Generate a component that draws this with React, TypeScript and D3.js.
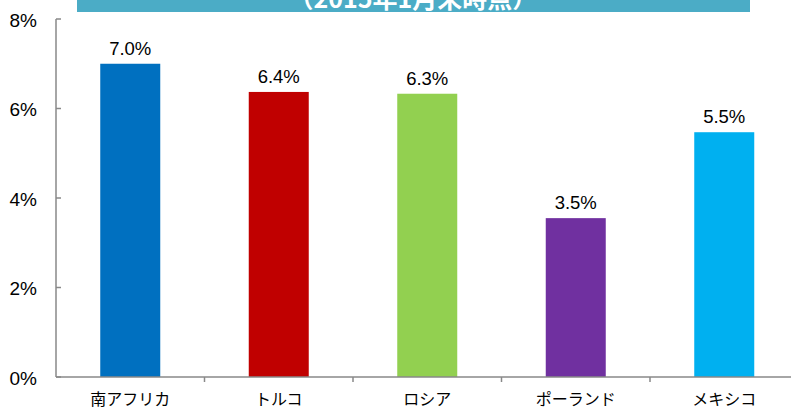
import * as d3 from "d3";
import {useEffect, useRef} from "react";

const countries = ["南アフリカ", "トルコ", "ロシア", "ポーランド", "メキシコ"];
const rates = [7.0, 6.37, 6.33, 3.55, 5.47];
const barColors = ["#0070C0", "#C00000", "#92D050", "#7030A0", "#00B0F0"];
const yTicks = [0, 2, 4, 6, 8];
const bannerText = "（2015年1月末時点）";

const W = 791;
const H = 410;

const App = () => {
    const ref = useRef<SVGSVGElement>(null);

    useEffect(() => {
        const svg = d3.select(ref.current);
        svg.selectAll("*").remove();

        const left = 56;
        const band = 148.5;
        const x = d3.scaleBand<string>()
            .domain(countries)
            .range([left, left + band * countries.length])
            .paddingInner(0)
            .paddingOuter(0);
        const y = d3.scaleLinear().domain([0, 8]).range([377, 19]);
        const barW = 60;
        const font = "Arial, 'Liberation Sans', sans-serif";

        // banner at top (cut off)
        svg.append("rect")
            .attr("x", 77).attr("y", 0)
            .attr("width", 673).attr("height", 12)
            .attr("fill", "#4BACC6");
        svg.append("text")
            .attr("x", 413).attr("y", 8)
            .attr("text-anchor", "middle")
            .attr("fill", "#fff")
            .attr("font-weight", "bold")
            .attr("font-size", 25)
            .attr("font-family", "'Noto Sans CJK JP', sans-serif")
            .text(bannerText);

        // bars
        svg.selectAll("rect.bar")
            .data(rates)
            .enter()
            .append("rect")
            .attr("class", "bar")
            .attr("x", (d, i) => x(countries[i])! + x.bandwidth() / 2 - barW / 2)
            .attr("y", d => y(d))
            .attr("width", barW)
            .attr("height", d => y(0) - y(d))
            .attr("fill", (d, i) => barColors[i]);

        // value labels
        svg.selectAll("text.val")
            .data(rates)
            .enter()
            .append("text")
            .attr("class", "val")
            .attr("x", (d, i) => x(countries[i])! + x.bandwidth() / 2)
            .attr("y", d => y(d) - 9)
            .attr("text-anchor", "middle")
            .attr("font-family", font)
            .attr("font-size", 18.5)
            .attr("fill", "#000")
            .text(d => d.toFixed(1) + "%");

        const axisColor = "#898989";

        // y axis
        svg.append("line")
            .attr("x1", left).attr("x2", left)
            .attr("y1", y(8)).attr("y2", y(0))
            .attr("stroke", axisColor).attr("stroke-width", 1.5);
        yTicks.forEach(t => {
            svg.append("line")
                .attr("x1", left).attr("x2", left + 5)
                .attr("y1", y(t)).attr("y2", y(t))
                .attr("stroke", axisColor).attr("stroke-width", 1.5);
            svg.append("text")
                .attr("x", 37).attr("y", y(t) + 7.5)
                .attr("text-anchor", "end")
                .attr("font-family", font)
                .attr("font-size", 19)
                .attr("fill", "#000")
                .text(t + "%");
        });

        // x axis
        svg.append("line")
            .attr("x1", left).attr("x2", left + band * countries.length)
            .attr("y1", y(0)).attr("y2", y(0))
            .attr("stroke", axisColor).attr("stroke-width", 1.5);
        countries.forEach((c, i) => {
            if (i > 0) {
                svg.append("line")
                    .attr("x1", x(c)!).attr("x2", x(c)!)
                    .attr("y1", y(0)).attr("y2", y(0) + 5)
                    .attr("stroke", axisColor).attr("stroke-width", 1.5);
            }
            svg.append("text")
                .attr("x", x(c)! + x.bandwidth() / 2)
                .attr("y", 405)
                .attr("text-anchor", "middle")
                .attr("font-family", "'Noto Sans CJK JP', sans-serif")
                .attr("font-size", 16)
                .attr("fill", "#000")
                .text(c);
        });
    }, []);

    return (
        <svg
            ref={ref}
            width={W}
            height={H}
            style={{position: "absolute", left: 0, top: 0, background: "#fff"}}
        />
    );
};

export default App;
